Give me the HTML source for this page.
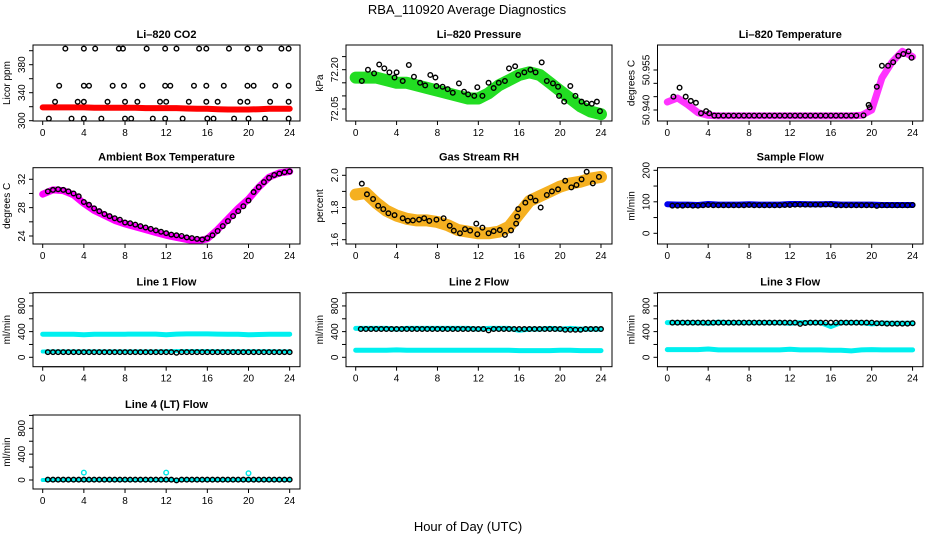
<!DOCTYPE html>
<html><head><meta charset="utf-8"><style>
html,body{margin:0;padding:0;background:#fff;}
svg{display:block;font-family:"Liberation Sans",Arial,sans-serif;}
</style></head><body>
<svg id="chart" width="936" height="540" viewBox="0 0 936 540" xmlns="http://www.w3.org/2000/svg">
<text x="467" y="14" font-size="13" text-anchor="middle">RBA_110920  Average Diagnostics</text>
<text x="468" y="531" font-size="13" text-anchor="middle">Hour of Day (UTC)</text>
</svg>
<script>
// ---------- data ----------
const hourTicks = [0,4,8,12,16,20,24];
const bandHours = [0,1,2,3,4,5,6,7,8,9,10,11,12,13,14,15,16,17,18,19,20,21,22,23,24];
const halfHours = [0.5,1,1.5,2,2.5,3,3.5,4,4.5,5,5.5,6,6.5,7,7.5,8,8.5,9,9.5,10,10.5,11,11.5,12,12.5,13,13.5,14,14.5,15,15.5,16,16.5,17,17.5,18,18.5,19,19.5,20,20.5,21,21.5,22,22.5,23,23.5,24];

// CO2
const co2Red = [319,319,319,319,319,318.5,318.5,318.5,318.5,318.5,318,318,318,318,317.5,317,317,316.5,316,316,316,316.5,317,317,317];
const co2BlackHours = [2.2,4,5.1,7.4,7.8,10.1,11.9,13,15.2,15.9,18.1,19.9,21.1,23.2,23.9,
 1.6,4,4.5,6.8,7.9,9.7,11.9,12.4,14.7,15.9,17.6,19.9,20.5,22.6,23.9,
 1.2,3.4,4,6.3,8,9.2,11.4,12,14.2,15.9,17,19.2,19.9,22.1,23.9,
 0.6,2.8,4,5.7,8,8.6,10.7,11.9,13.6,16,16.6,18.6,20,21.6,23.9];
const co2BlackPpm = [403,403,403,403,403,403,403,403,403,403,403,403,403,403,403,
 350,350,350,350,350,350,350,350,350,350,350,350,350,350,350,
 327,327,327,327,327,327,327,327,327,327,327,327,327,327,327,
 303,303,303,303,303,303,303,303,303,303,303,303,303,303,303];
const co2Ticks = [300,320,340,360,380,400];
const co2Labels = [300,340,380];

// Pressure
const presGreen = [72.17,72.17,72.17,72.16,72.15,72.15,72.14,72.13,72.12,72.11,72.10,72.09,72.09,72.11,72.14,72.16,72.18,72.19,72.18,72.15,72.12,72.09,72.06,72.04,72.03];
const presBlackHours = [0.6,1.2,1.8,2.3,2.8,3.3,3.8,4,4.6,5.2,5.7,6.3,6.8,7.3,7.8,7.9,8.5,9,9.5,10.1,10.6,11,11.6,11.9,12.4,13,13.5,14,14.6,15,15.6,15.9,16.5,17.1,17.6,18.2,18.7,19.3,19.8,19.9,20.4,21,21.5,22.1,22.6,23.1,23.6,23.9];
const presBlackKpa = [72.157,72.20,72.186,72.22,72.205,72.19,72.17,72.19,72.157,72.218,72.173,72.15,72.14,72.18,72.17,72.138,72.135,72.126,72.112,72.148,72.116,72.106,72.10,72.133,72.10,72.15,72.13,72.15,72.157,72.205,72.213,72.18,72.19,72.20,72.19,72.228,72.157,72.148,72.135,72.10,72.078,72.138,72.10,72.078,72.072,72.07,72.078,72.042];
const presTicks = [72.05,72.10,72.15,72.20,72.25];
const presLabels = ["72.05","72.20"];

// Li-820 temperature
const tempMagenta = [50.943,50.9445,50.942,50.939,50.938,50.9378,50.9378,50.9378,50.9378,50.9378,50.9378,50.9378,50.9378,50.9378,50.9378,50.9378,50.9378,50.9378,50.9378,50.938,50.940,50.952,50.958,50.962,50.960];
const tempBlackHours = [0.6,1.2,1.8,2.3,2.8,3.3,3.8,4.1,4.6,5,5.5,6,6.5,7,7.5,8,8.5,9,9.5,10,10.5,11,11.5,12,12.5,13,13.5,14,14.5,15,15.5,16,16.5,17,17.5,18,18.5,19.2,19.7,19.8,20.5,21,21.6,22.1,22.6,23.1,23.6,23.9];
const tempBlackC = [50.945,50.9484,50.945,50.9434,50.9427,50.9388,50.9396,50.9388,50.9379,50.9379,50.9379,50.9379,50.9379,50.9379,50.9379,50.9379,50.9379,50.9379,50.9379,50.9379,50.9379,50.9379,50.9379,50.9379,50.9379,50.9379,50.9379,50.9379,50.9379,50.9379,50.9379,50.9379,50.9379,50.9379,50.9379,50.9379,50.9379,50.938,50.9419,50.941,50.9487,50.9566,50.9566,50.9579,50.9603,50.961,50.962,50.9596];
const tempTicks = [50.940,50.945,50.950,50.955];
const tempLabels = ["50.940","50.955"];

// Ambient box temperature
const ambMagenta = [29.9,30.5,30.4,29.8,28.6,27.6,26.9,26.2,25.7,25.3,24.9,24.5,24.1,23.8,23.5,23.3,23.6,24.9,26.4,27.9,29.2,30.9,32.3,32.9,33.1];
const ambBlack = [30.3,30.5,30.6,30.5,30.3,30.0,29.6,28.8,28.4,27.9,27.5,27.1,26.8,26.5,26.3,25.9,25.8,25.6,25.4,25.2,25.0,24.8,24.6,24.4,24.2,24.1,24.0,23.8,23.7,23.6,23.5,23.7,24.1,24.7,25.4,26.1,26.8,27.5,28.2,29.0,30.2,30.9,31.6,32.2,32.6,32.8,33.0,33.1];
const ambTicks = [24,26,28,30,32];
const ambLabels = [24,28,32];

// Gas stream RH
const rhOrange = [1.88,1.89,1.83,1.78,1.75,1.73,1.72,1.72,1.71,1.69,1.66,1.65,1.64,1.64,1.65,1.68,1.76,1.84,1.87,1.90,1.93,1.95,1.96,1.98,1.99];
const rhBlackHours = [0.6,1.1,1.7,2.2,2.7,3.2,3.8,4.6,5.1,5.6,6.2,6.7,7.2,7.9,8.6,9.2,9.6,10.2,10.7,11.2,11.8,11.9,12.4,13,13.5,14.1,14.6,15.2,15.7,15.8,15.9,16.6,17.1,17.6,18.1,18.7,19.2,19.8,20.5,21.1,21.6,22.1,22.6,23.2,23.8];
const rhBlackPct = [1.948,1.882,1.853,1.811,1.79,1.764,1.753,1.733,1.718,1.72,1.725,1.733,1.717,1.725,1.733,1.687,1.656,1.64,1.666,1.656,1.70,1.634,1.675,1.64,1.653,1.66,1.63,1.658,1.70,1.743,1.79,1.83,1.863,1.843,1.80,1.878,1.90,1.913,1.966,1.925,1.94,1.975,2.022,1.95,1.99];
const rhTicks = [1.6,1.7,1.8,1.9,2.0];
const rhLabels = ["1.6","1.8","2.0"];

// Sample flow
const sampleBlue = [92,91,91,90,93,91,91,91,92,91,91,91,93,93,92,92,93,91,91,91,91,90,90,90,90];
const sampleBlack = [88,88,88,89,88,88,89,90,89,89,89,89,89,89,89,90,89,89,89,89,89,89,90,90,91,91,91,91,91,91,92,92,89,89,89,89,89,89,89,89,87,89,89,89,89,89,89,90];
const sampleTicks = [0,50,100,150,200];
const sampleLabels = [0,100,200];

// Line flows
const flowTicks = [0,200,400,600,800,1000];
const flowLabels = [0,400,800];
const line1CyanHigh = [360,360,360,360,352,360,360,360,360,362,362,362,350,362,364,364,364,362,360,358,350,355,358,360,360];
const line1CyanLow = [90,92,92,92,92,92,92,92,92,92,92,92,94,96,96,96,96,94,94,94,94,94,94,92,92];
const line1Black = [80,80,80,80,80,80,80,80,80,80,80,80,80,80,80,80,80,80,80,80,80,80,80,80,80,70,80,80,80,80,80,80,80,80,80,80,80,80,80,80,80,80,80,80,80,80,80,80];
const line2CyanHigh = [450,450,450,450,440,450,450,450,450,450,450,450,440,450,450,450,420,440,440,450,440,450,440,440,440];
const line2CyanLow = [110,110,110,110,115,110,110,110,110,110,110,110,110,110,110,110,105,105,105,105,110,110,105,105,105];
const line2Black = [440,440,440,440,440,440,440,440,440,440,440,440,440,440,440,440,440,440,440,440,440,440,440,440,440,420,440,440,440,440,440,440,440,440,440,440,440,440,440,440,430,430,430,430,440,440,440,440];
const line3CyanHigh = [540,540,540,540,530,545,540,540,540,540,540,540,530,540,540,540,480,540,540,540,520,535,530,530,530];
const line3CyanLow = [120,120,120,120,130,115,115,115,115,115,115,115,125,115,115,115,110,110,100,115,120,115,115,115,115];
const line3Black = [540,540,540,540,540,540,540,540,540,540,540,540,540,540,540,540,540,540,540,540,540,540,540,540,540,520,535,540,540,540,540,540,540,540,540,540,540,540,540,540,530,530,525,525,525,525,525,530];
const line4Cyan = [0,0,0,0,0,0,0,0,0,0,0,0,0,0,0,0,0,0,0,0,0,0,0,0,0];
const line4OutlierHours = [4,12,20];
const line4OutlierVals = [115,115,105];
const line4Black = [5,5,5,5,5,5,5,5,5,5,5,5,5,5,5,5,5,5,5,5,5,5,5,5,5,-5,5,5,5,5,5,5,5,5,5,5,5,5,5,5,5,5,5,5,5,5,5,5];

// ---------- layout ----------
const NS = "http://www.w3.org/2000/svg";
const svg = document.getElementById("chart");
const cols = [{l:33,r:300,x0:42.7,xs:10.29},{l:346,r:612,x0:355.7,xs:10.22},{l:657.5,r:923,x0:667.3,xs:10.22}];
const rows = [{t:45,b:121},{t:167.7,b:244},{t:292.7,b:366.7},{t:415,b:489}];

function mk(tag, attrs, parent){const e=document.createElementNS(NS,tag);for(const k in attrs)e.setAttribute(k,attrs[k]);(parent||svg).appendChild(e);return e;}

function panel(name, c, r, title, ylab, v0, p0, slope, yticks, ylabels){
  const C=cols[c], R=rows[r];
  const g=mk("g",{});
  
  
  const clipId="clip-"+name;
  const cp=mk("clipPath",{id:clipId},g); mk("rect",{x:C.l,y:R.t,width:C.r-C.l,height:R.b-R.t},cp);
  const xf=h=>C.x0+h*C.xs, yf=v=>p0-(v-v0)*slope;
  const plot=mk("g",{"clip-path":"url(#"+clipId+")"},g);
  const frame=mk("rect",{x:C.l,y:R.t,width:C.r-C.l,height:R.b-R.t,fill:"none",stroke:"#000","stroke-width":1},g);
  
  
  const t=mk("text",{x:(C.l+C.r)/2,y:R.t-7,"font-size":11,"font-weight":"bold","text-anchor":"middle"},g); t.textContent=title;
  
  
  const xa=mk("g",{},g);
  
  
  mk("line",{x1:xf(hourTicks[0]),x2:xf(hourTicks[hourTicks.length-1]),y1:R.b,y2:R.b,stroke:"#000"},xa);
  hourTicks.forEach(h=>{mk("line",{x1:xf(h),x2:xf(h),y1:R.b,y2:R.b+4,stroke:"#000"},xa);
    const tx=mk("text",{x:xf(h),y:R.b+15,"font-size":10,"text-anchor":"middle"},xa);tx.textContent=h;});
  const ya=mk("g",{},g);
  
  
  mk("line",{x1:C.l,x2:C.l,y1:yf(yticks[0]),y2:yf(yticks[yticks.length-1]),stroke:"#000"},ya);
  yticks.forEach(v=>mk("line",{x1:C.l-4,x2:C.l,y1:yf(v),y2:yf(v),stroke:"#000"},ya));
  ylabels.forEach(v=>{const y=yf(parseFloat(v));const lx=C.l-8;const tx=mk("text",{x:lx,y:y,"font-size":10,"text-anchor":"middle",transform:"rotate(-90 "+lx+" "+y+")"},ya);tx.textContent=v;});
  const yl=mk("text",{x:C.l-23,y:(R.t+R.b)/2,"font-size":10,"text-anchor":"middle",transform:"rotate(-90 "+(C.l-23)+" "+((R.t+R.b)/2)+")"},g); yl.textContent=ylab;
  
  
  return {plot,xf,yf};
}
function band(P, name, hours, vals, color, w){
  const d=hours.map((h,i)=>(i?"L":"M")+P.xf(h).toFixed(1)+","+P.yf(vals[i]).toFixed(1)).join("");
  const p=mk("path",{d:d,fill:"none",stroke:color,"stroke-width":w,"stroke-linejoin":"round","stroke-linecap":"round"},P.plot);
  
  
}
function dots(P, name, hours, vals, color){
  const g=mk("g",{},P.plot);
  
  
  hours.forEach((h,i)=>{mk("circle",{cx:P.xf(h),cy:P.yf(vals[i]),r:2.3,fill:"none",stroke:color,"stroke-width":1.4},g);});
}

let P;
P=panel("co2",0,0,"Li\u2013820 CO2","Licor ppm",300,120.7,0.7,co2Ticks,co2Labels);
band(P,"co2-red-band",bandHours,co2Red,"#ff0000",6);
dots(P,"co2-black-points",co2BlackHours,co2BlackPpm,"#000");

P=panel("pressure",1,0,"Li\u2013820 Pressure","kPa",72.05,109,262,presTicks,presLabels);
band(P,"pressure-green-band",bandHours,presGreen,"#22dd22",12);
dots(P,"pressure-black-points",presBlackHours,presBlackKpa,"#000");

P=panel("li820-temp",2,0,"Li\u2013820 Temperature","degrees C",50.940,110,2666.7,tempTicks,tempLabels);
band(P,"li820-temp-magenta-band",bandHours,tempMagenta,"#ff33ff",7);
dots(P,"li820-temp-black-points",tempBlackHours,tempBlackC,"#000");

P=panel("ambient",0,1,"Ambient Box Temperature","degrees C",24,236,7.09,ambTicks,ambLabels);
band(P,"ambient-magenta-band",bandHours,ambMagenta,"#ff00ff",7);
dots(P,"ambient-black-points",halfHours,ambBlack,"#000");

P=panel("rh",1,1,"Gas Stream RH","percent",1.6,239.7,161,rhTicks,rhLabels);
band(P,"rh-orange-band",bandHours,rhOrange,"#f5b020",12);
dots(P,"rh-black-points",rhBlackHours,rhBlackPct,"#000");

P=panel("sample-flow",2,1,"Sample Flow","ml/min",0,233.3,0.315,sampleTicks,sampleLabels);
band(P,"sample-flow-blue-band",bandHours,sampleBlue,"#0000ee",6);
dots(P,"sample-flow-black-points",halfHours,sampleBlack,"#000");

P=panel("line1-flow",0,2,"Line 1 Flow","ml/min",0,357.3,0.0642,flowTicks,flowLabels);
band(P,"line1-cyan-high",bandHours,line1CyanHigh,"#00f0f0",5);
band(P,"line1-cyan-low",bandHours,line1CyanLow,"#00f0f0",4);
dots(P,"line1-black-points",halfHours,line1Black,"#000");

P=panel("line2-flow",1,2,"Line 2 Flow","ml/min",0,357.3,0.0642,flowTicks,flowLabels);
band(P,"line2-cyan-high",bandHours,line2CyanHigh,"#00f0f0",5);
band(P,"line2-cyan-low",bandHours,line2CyanLow,"#00f0f0",5);
dots(P,"line2-black-points",halfHours,line2Black,"#000");

P=panel("line3-flow",2,2,"Line 3 Flow","ml/min",0,357.3,0.0642,flowTicks,flowLabels);
band(P,"line3-cyan-high",bandHours,line3CyanHigh,"#00f0f0",5);
band(P,"line3-cyan-low",bandHours,line3CyanLow,"#00f0f0",5);
dots(P,"line3-black-points",halfHours,line3Black,"#000");

P=panel("line4-flow",0,3,"Line 4 (LT) Flow","ml/min",0,480,0.0646,flowTicks,flowLabels);
band(P,"line4-cyan-band",bandHours,line4Cyan,"#00f0f0",4);
dots(P,"line4-cyan-outliers",line4OutlierHours,line4OutlierVals,"#00e8e8");
dots(P,"line4-black-points",halfHours,line4Black,"#000");
</script>
</body></html>
